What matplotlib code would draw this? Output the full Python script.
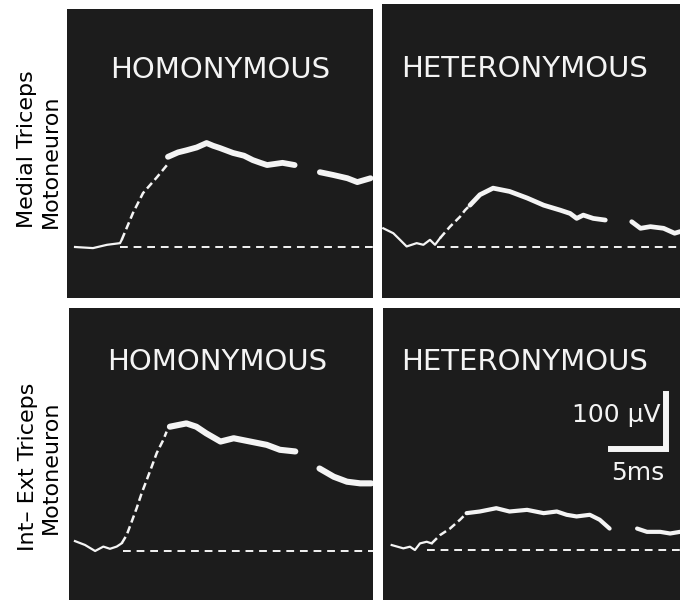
import matplotlib.pyplot as plt

# traces: time in ms, amplitude in uV above baseline
# each trace: thin foot, faint (dashed) rise, thick body, thick tail after the gap
tl_foot_t = [0.64, 2.27, 3.55, 4.73, 4.88]
tl_foot_v = [0, -2, 4, 7, 13]
tl_rise_t = [4.88, 5.91, 6.82, 8.09, 9.0]
tl_rise_v = [13, 62, 98, 127, 149]
tl_body_t = [9.09, 10.0, 10.8, 11.7, 12.6, 13.2, 13.8, 15.0, 16.0, 16.8, 17.5, 18.1, 19.5, 20.6]
tl_body_v = [164, 172, 176, 181, 189, 184, 180, 171, 166, 158, 153, 149, 153, 149]
tl_tail_t = [22.9, 24.1, 25.4, 26.3, 27.5]
tl_tail_v = [136, 131, 125, 118, 125]

tr_foot_t = [0.12, 1.03, 1.64, 2.24, 3.15, 3.76, 4.36, 4.82, 5.27]
tr_foot_v = [34, 25, 13, 1, 7, 4, 13, 4, 16]
tr_rise_t = [5.27, 6.18, 7.09, 7.55, 8.0]
tr_rise_v = [16, 37, 55, 67, 76]
tr_body_t = [8.0, 8.9, 10.1, 11.6, 13.2, 14.7, 16.2, 17.1, 17.7, 18.3, 19.2, 20.3]
tr_body_v = [76, 95, 107, 101, 89, 76, 67, 61, 52, 58, 52, 49]
tr_tail_t = [22.7, 23.5, 24.4, 25.6, 26.6, 27.1]
tr_tail_v = [46, 34, 37, 34, 25, 28]

bl_foot_t = [0.27, 1.18, 2.1, 2.85, 3.45, 4.06, 4.52]
bl_foot_v = [18, 11, 0, 8, 4, 8, 14]
bl_rise_t = [4.52, 4.97, 5.42, 5.88, 6.33, 6.79, 7.24, 7.7, 8.3, 8.6]
bl_rise_v = [14, 29, 53, 78, 105, 129, 153, 178, 202, 217]
bl_body_t = [8.9, 10.4, 11.3, 12.2, 13.5, 14.7, 16.2, 17.7, 18.9, 20.3]
bl_body_v = [226, 232, 226, 214, 199, 205, 199, 193, 184, 181]
bl_tail_t = [22.5, 23.8, 25.0, 26.2, 27.2]
bl_tail_v = [150, 135, 126, 123, 123]

br_foot_t = [0.79, 1.85, 2.45, 2.9, 3.36, 3.97, 4.42]
br_foot_v = [9, 3, 6, 0, 12, 15, 12]
br_rise_t = [4.42, 5.18, 6.09, 7.0, 7.6]
br_rise_v = [12, 27, 39, 55, 67]
br_body_t = [7.6, 8.8, 10.3, 11.5, 13.1, 14.6, 15.8, 16.7, 17.6, 18.8, 19.7, 20.6]
br_body_v = [67, 70, 76, 70, 73, 67, 70, 64, 61, 64, 55, 39]
br_tail_t = [23.1, 24.0, 25.2, 26.1, 27.0]
br_tail_v = [39, 33, 33, 30, 33]

titles = ["HOMONYMOUS", "HETERONYMOUS", "HOMONYMOUS", "HETERONYMOUS"]
row_labels = [("Medial Triceps", "Motoneuron"), ("Int\u2013 Ext Triceps", "Motoneuron")]
scale_ms = 5
scale_uv = 100

W, H = 680, 600
BG = "#1c1c1c"
FG = "#f4f4f4"

fig = plt.figure(figsize=(W / 100, H / 100), dpi=100)
fig.patch.set_facecolor("white")


def px(x, y):
    return x / W, 1 - y / H


def panel(x0, y0, x1, y1, base_y, t0_x):
    # 11 px per ms, 0.55 px per uV
    ax = fig.add_axes([x0 / W, 1 - y1 / H, (x1 - x0) / W, (y1 - y0) / H])
    ax.set_facecolor(BG)
    ax.set_xlim((x0 - t0_x) / 11, (x1 - t0_x) / 11)
    ax.set_ylim((base_y - y1) / 0.55, (base_y - y0) / 0.55)
    ax.set_xticks([])
    ax.set_yticks([])
    for s in ax.spines.values():
        s.set_visible(False)
    return ax


def trace(ax, foot, rise, body, tail, dash_from, lw_body):
    ax.plot(*foot, color=FG, lw=1.6, solid_joinstyle="round")
    ax.plot(*rise, color=FG, lw=1.8, linestyle=(0, (3, 1.6)))
    ax.plot(*body, color=FG, lw=lw_body, solid_capstyle="round", solid_joinstyle="round")
    ax.plot(*tail, color=FG, lw=lw_body, solid_capstyle="round", solid_joinstyle="round")
    ax.plot([dash_from, ax.get_xlim()[1]], [0, 0], color=FG, lw=1.4, dashes=(4, 3))


ax_tl = panel(67, 9, 373, 298, 247, 68)
ax_tr = panel(382, 4, 680, 298, 247, 382)
ax_bl = panel(69, 308, 373, 600, 551, 72)
ax_br = panel(383, 308, 680, 600, 550, 383)

trace(ax_tl, (tl_foot_t, tl_foot_v), (tl_rise_t, tl_rise_v), (tl_body_t, tl_body_v),
      (tl_tail_t, tl_tail_v), 4.7, 4.2)
trace(ax_tr, (tr_foot_t, tr_foot_v), (tr_rise_t, tr_rise_v), (tr_body_t, tr_body_v),
      (tr_tail_t, tr_tail_v), 5.0, 3.4)
trace(ax_bl, (bl_foot_t, bl_foot_v), (bl_rise_t, bl_rise_v), (bl_body_t, bl_body_v),
      (bl_tail_t, bl_tail_v), 4.6, 4.4)
trace(ax_br, (br_foot_t, br_foot_v), (br_rise_t, br_rise_v), (br_body_t, br_body_v),
      (br_tail_t, br_tail_v), 4.0, 3.0)

# panel titles
title_pos = [(220, 78), (525, 77), (217, 370), (525, 370)]
for (x, y), t in zip(title_pos, titles):
    fig.text(*px(x, y), t, color=FG, fontsize=21, ha="center", va="baseline",
             family="DejaVu Sans")

# row labels, rotated; baseline on the right side
label_pos = [((33, 149), (57, 161)), ((34, 467), (57, 467))]
for (p1, p2), (l1, l2) in zip(label_pos, row_labels):
    fig.text(*px(*p1), l1, rotation=90, rotation_mode="anchor", ha="center",
             va="baseline", fontsize=16, color="black")
    fig.text(*px(*p2), l2, rotation=90, rotation_mode="anchor", ha="center",
             va="baseline", fontsize=16, color="black")

# calibration bar in the lower right panel
cx, cy = 25.7, 184
ax_br.plot([cx - scale_ms, cx, cx], [cy, cy, cy + scale_uv], color=FG, lw=4.3,
           solid_capstyle="projecting", solid_joinstyle="miter")
ax_br.text(25.2, 233, "100 \u00b5V", color=FG, fontsize=18, ha="right", va="baseline")
ax_br.text(23.2, 127, "5ms", color=FG, fontsize=18, ha="center", va="baseline")

fig.savefig("out.png", dpi=100, facecolor="white")
